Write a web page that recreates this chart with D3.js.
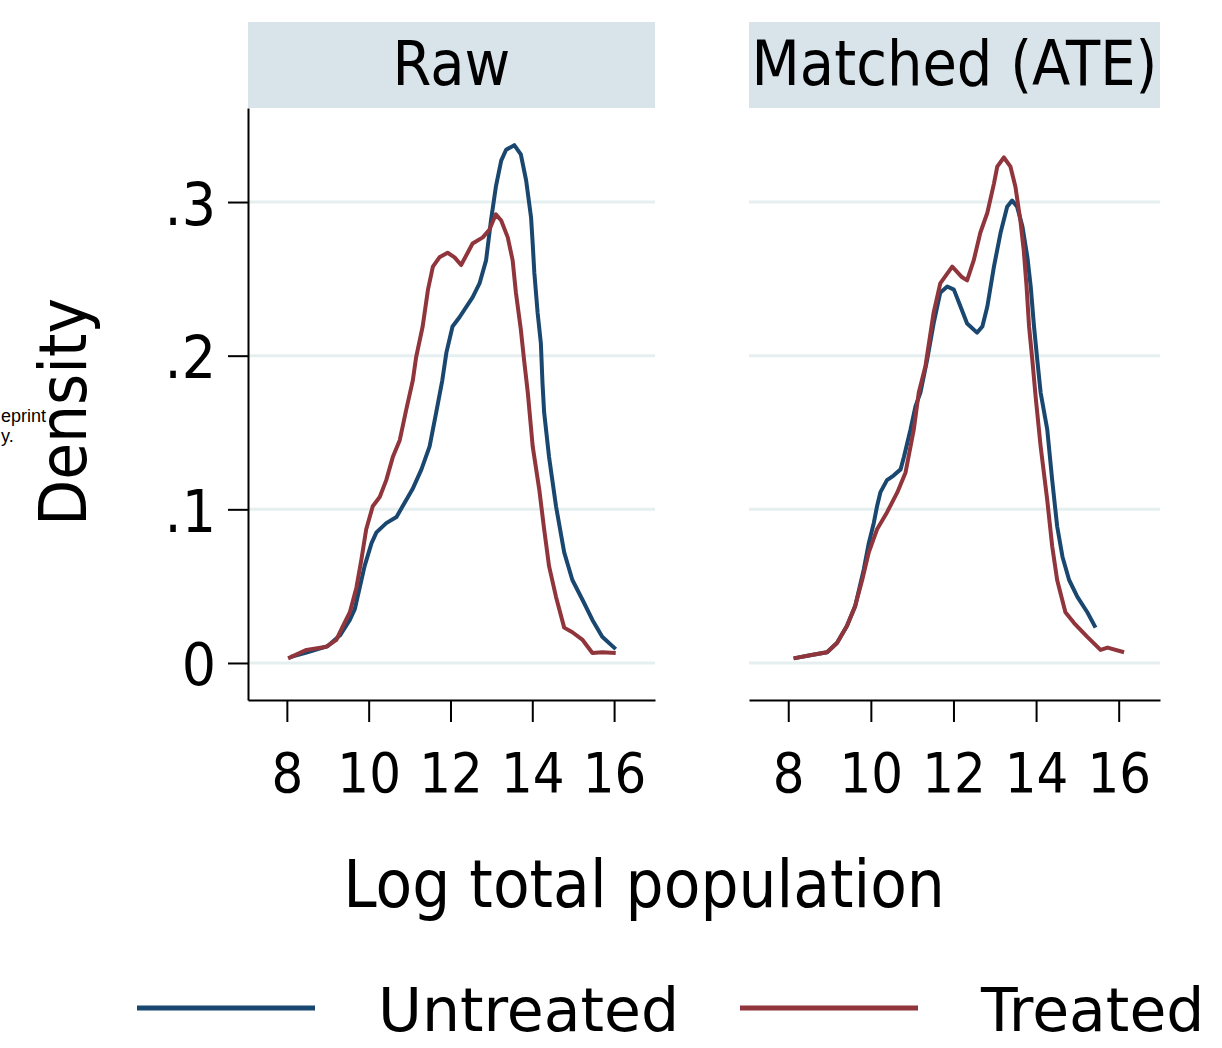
<!DOCTYPE html>
<html lang="en">
<head>
<meta charset="UTF-8">
<title>Log total population density</title>
<script src="https://d3js.org/d3.v7.min.js"></script>
<style>
  body { margin: 0; background: #fff; }
  svg text { font-family: "DejaVu Sans", Verdana, sans-serif; fill: #000; }
  .grid { stroke: #e6eff0; stroke-width: 3px; }
  .strip { fill: #d8e4ea; }
  .axis path, .axis line { stroke: #000; stroke-width: 2px; }
  .curve { fill: none; stroke-width: 4px; stroke-linejoin: round; }
</style>
</head>
<body>
<svg id="chart" width="1222" height="1048"></svg>
<script>
// panel titles, legend labels, ticks
const panels = ["Raw", "Matched (ATE)"];
const groups = ["Untreated", "Treated"];
const groupColors = ["#1a476f", "#90353b"];
const xTicks = [8, 10, 12, 14, 16];
const yTicks = [0, 0.1, 0.2, 0.3];

// density curves: [log total population, density]
const rawUntreated = [[8.10,0.004],[8.50,0.007],[9.00,0.011],[9.30,0.018],[9.54,0.028],[9.66,0.035],[9.78,0.049],[9.90,0.063],[10.07,0.078],[10.19,0.085],[10.43,0.091],[10.68,0.095],[10.83,0.102],[11.07,0.113],[11.29,0.126],[11.49,0.141],[11.65,0.163],[11.80,0.184],[11.90,0.202],[12.05,0.219],[12.22,0.225],[12.54,0.238],[12.71,0.247],[12.87,0.262],[12.99,0.288],[13.11,0.310],[13.24,0.327],[13.36,0.334],[13.56,0.337],[13.72,0.331],[13.85,0.314],[13.97,0.290],[14.01,0.273],[14.05,0.254],[14.13,0.228],[14.21,0.208],[14.25,0.182],[14.29,0.163],[14.41,0.134],[14.58,0.102],[14.78,0.072],[14.98,0.054],[15.23,0.041],[15.47,0.028],[15.71,0.017],[16.04,0.009]];
const rawTreated = [[8.03,0.003],[8.48,0.0085],[8.97,0.0106],[9.21,0.015],[9.37,0.024],[9.54,0.033],[9.70,0.049],[9.82,0.067],[9.94,0.087],[10.10,0.102],[10.27,0.108],[10.43,0.119],[10.59,0.134],[10.76,0.145],[10.92,0.165],[11.08,0.184],[11.16,0.199],[11.32,0.219],[11.45,0.243],[11.57,0.258],[11.73,0.264],[11.93,0.267],[12.10,0.264],[12.26,0.259],[12.42,0.267],[12.54,0.273],[12.79,0.277],[12.95,0.282],[13.11,0.292],[13.24,0.288],[13.40,0.277],[13.52,0.262],[13.60,0.241],[13.72,0.217],[13.80,0.197],[13.89,0.176],[14.01,0.141],[14.17,0.113],[14.29,0.087],[14.41,0.063],[14.58,0.043],[14.78,0.023],[14.98,0.020],[15.23,0.015],[15.47,0.0065],[15.71,0.007],[16.04,0.0065]];
const matchedUntreated = [[8.13,0.003],[8.53,0.005],[8.94,0.007],[9.18,0.013],[9.42,0.024],[9.62,0.037],[9.83,0.061],[9.95,0.078],[10.07,0.091],[10.15,0.102],[10.23,0.111],[10.39,0.119],[10.55,0.122],[10.72,0.126],[10.80,0.134],[10.96,0.152],[11.08,0.167],[11.20,0.176],[11.36,0.197],[11.52,0.221],[11.68,0.241],[11.85,0.245],[12.01,0.243],[12.17,0.232],[12.33,0.221],[12.57,0.215],[12.70,0.219],[12.82,0.232],[12.98,0.258],[13.14,0.280],[13.30,0.297],[13.42,0.301],[13.54,0.297],[13.67,0.284],[13.79,0.264],[13.87,0.245],[13.95,0.219],[14.03,0.197],[14.11,0.176],[14.27,0.152],[14.39,0.119],[14.51,0.089],[14.64,0.069],[14.80,0.054],[15.00,0.043],[15.24,0.033],[15.44,0.023]];
const matchedTreated = [[8.13,0.003],[8.53,0.005],[8.94,0.007],[9.18,0.013],[9.42,0.024],[9.62,0.037],[9.79,0.054],[9.95,0.072],[10.15,0.087],[10.39,0.098],[10.64,0.111],[10.84,0.124],[11.04,0.152],[11.16,0.176],[11.32,0.193],[11.52,0.228],[11.68,0.247],[11.97,0.258],[12.21,0.251],[12.33,0.249],[12.49,0.262],[12.65,0.280],[12.82,0.293],[12.98,0.312],[13.06,0.323],[13.22,0.329],[13.38,0.323],[13.50,0.310],[13.62,0.288],[13.70,0.269],[13.77,0.245],[13.83,0.219],[13.91,0.197],[13.99,0.173],[14.11,0.141],[14.27,0.106],[14.39,0.076],[14.51,0.054],[14.71,0.033],[14.92,0.026],[15.24,0.017],[15.56,0.0085],[15.73,0.010],[16.13,0.007]];

const panelData = [[rawUntreated, rawTreated], [matchedUntreated, matchedTreated]];

const svg = d3.select("#chart");

// layout
const plotTop = 108, plotBottom = 700;
const stripTop = 22;
const panelX = [[248, 655], [749, 1160]];
const stretch = 1.1; // text in the picture is a bit taller than DejaVu

const y = d3.scaleLinear().domain([-0.0241, 0.3612]).range([plotBottom, plotTop]);

const line = d3.line();

// put text at (x, y) stretched vertically
function tall(sel, x, y, rot) {
    return sel.attr("transform", `translate(${x},${y})` + (rot ? ` rotate(${rot})` : "") + ` scale(1,${stretch})`);
}

panels.forEach((name, i) => {
    const x = d3.scaleLinear().domain([7.05, 17.0]).range(panelX[i]);
    const g = svg.append("g");

    // strip title
    g.append("rect").attr("class", "strip")
        .attr("x", panelX[i][0]).attr("y", stripTop)
        .attr("width", panelX[i][1] - panelX[i][0]).attr("height", plotTop - stripTop);
    g.append("text")
        .call(tall, (panelX[i][0] + panelX[i][1]) / 2, 85)
        .attr("text-anchor", "middle")
        .style("font-size", "56px")
        .text(name);

    // horizontal grid
    g.selectAll("line.grid").data(yTicks)
        .join("line")
        .attr("class", "grid")
        .attr("x1", panelX[i][0]).attr("x2", panelX[i][1])
        .attr("y1", d => y(d)).attr("y2", d => y(d));

    // curves
    line.x(d => x(d[0])).y(d => y(d[1]));
    g.selectAll("path.curve").data(panelData[i])
        .join("path")
        .attr("class", "curve")
        .attr("stroke", (d, j) => groupColors[j])
        .attr("d", line);

    // x axis
    const xAxis = g.append("g").attr("class", "axis")
        .attr("transform", `translate(0,${plotBottom})`)
        .call(d3.axisBottom(x).tickValues(xTicks).tickSize(22).tickSizeOuter(0));
    xAxis.selectAll("text")
        .attr("y", null).attr("dy", null)
        .call(tall, 0, 92)
        .style("font-size", "50px");

    // y axis only on the first panel
    if (i === 0) {
        const yAxis = g.append("g").attr("class", "axis")
            .attr("transform", `translate(${panelX[0][0]},0)`)
            .call(d3.axisLeft(y).tickValues(yTicks).tickSize(20).tickSizeOuter(0)
                .tickFormat(d => d === 0 ? "0" : d3.format(".1f")(d).replace(/^0/, "")));
        yAxis.selectAll("text")
            .attr("x", null).attr("dy", "0.37em")
            .call(tall, -32, 0)
            .style("font-size", "54px");
    }
});

// axis titles
svg.append("text")
    .call(tall, 86, 412, -90)
    .attr("text-anchor", "middle")
    .style("font-size", "60px")
    .text("Density");

svg.append("text")
    .call(tall, 644, 907)
    .attr("text-anchor", "middle")
    .style("font-size", "60px")
    .text("Log total population");

// legend
const legendX = [137, 740];
const legend = svg.append("g");
groups.forEach((name, j) => {
    legend.append("line")
        .attr("x1", legendX[j]).attr("x2", legendX[j] + 178)
        .attr("y1", 1008).attr("y2", 1008)
        .attr("stroke", groupColors[j]).attr("stroke-width", 5);
    legend.append("text")
        .attr("x", legendX[j] + 241).attr("y", 1031)
        .style("font-size", "60px")
        .text(name);
});

// clipped preprint note at the left edge
svg.append("text")
    .attr("x", 1).attr("y", 422)
    .style("font-family", "'Liberation Sans', Arial, sans-serif")
    .style("font-size", "18px")
    .text("eprint");
svg.append("text")
    .attr("x", 1).attr("y", 442)
    .style("font-family", "'Liberation Sans', Arial, sans-serif")
    .style("font-size", "18px")
    .text("y.");
</script>
</body>
</html>
